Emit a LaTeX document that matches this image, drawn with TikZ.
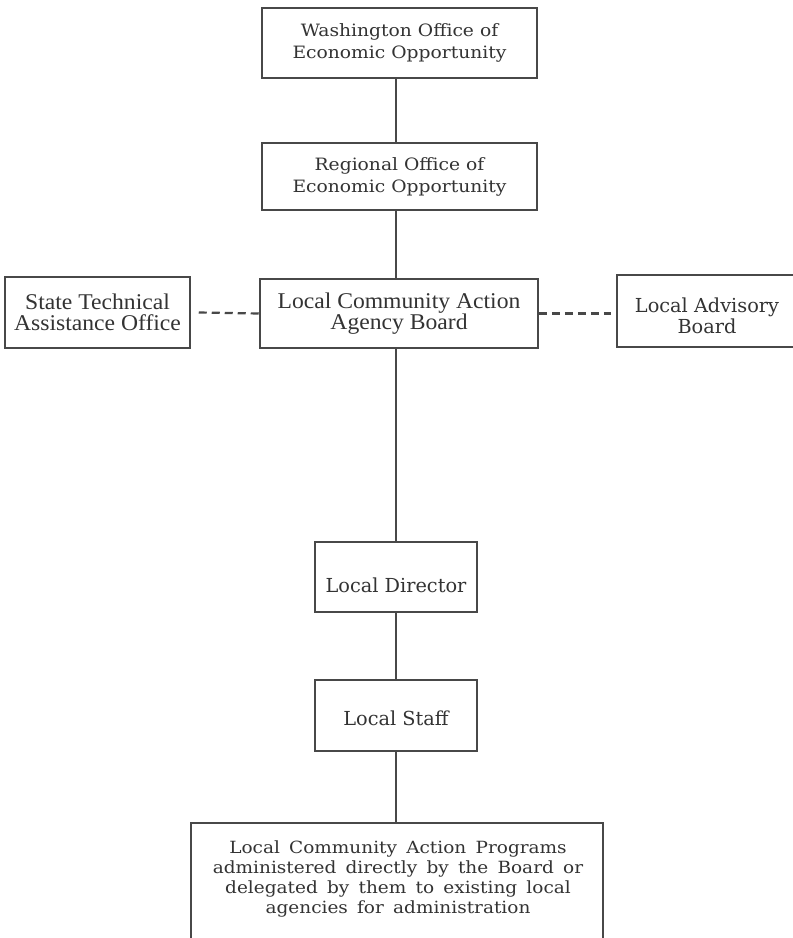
\documentclass[tikz,border=0pt]{standalone}
\usepackage{fontspec}
\setmainfont{DejaVu Serif}
\newfontfamily\condfont[FakeStretch=1.05]{Liberation Serif}
\newfontfamily\widefont[FakeStretch=1.1]{DejaVu Serif}
\definecolor{ink}{HTML}{333333}
\definecolor{edge}{HTML}{484848}
\newcommand{\widespace}{\spaceskip=0.55em plus 0.1em\relax}
\begin{document}
\begin{tikzpicture}[x=1pt,y=-1pt,
  box/.style={draw=edge, line width=1.5pt, text=ink, align=center, inner sep=0pt},
  conn/.style={draw=edge, line width=1.1pt},
  dconn/.style={draw=edge, line width=2.2pt, dash pattern=on 8pt off 5pt},
  txt/.style={font=\widefont\fontsize{17}{22}\selectfont},
  txtc/.style={font=\condfont\fontsize{22.5}{21.5}\selectfont},
  txtd/.style={font=\fontsize{19.3}{21}\selectfont},
  txtb/.style={font=\widefont\fontsize{16.8}{20.3}\selectfont}]
\useasboundingbox[fill=white] (0,0) rectangle (793,938);
\node[box, txt, minimum width=275pt, minimum height=70pt] (wash) at (399.5,43) {Washington Office of\\Economic Opportunity};
\node[box, txt, minimum width=275pt, minimum height=67pt] (reg) at (399.5,176.5) {Regional Office of\\Economic Opportunity};
\node[box, txtc, minimum width=278pt, minimum height=69pt] (lcaa) at (399,313.5) {Local Community Action\\Agency Board};
\node[box, txtc, minimum width=185pt, minimum height=71pt] (sta) at (97.5,312.5) {State Technical\\Assistance Office};
\node[box, txtd, minimum width=180pt, minimum height=72pt] (lab) at (707,311) {\rule{0pt}{24pt}Local Advisory\\Board};
\node[box, txtd, minimum width=162pt, minimum height=70pt, text height=34pt, text depth=4pt] (dir) at (396,577) {Local Director};
\node[box, txtd, minimum width=162pt, minimum height=71pt, text height=23pt, text depth=4pt] (staff) at (396,715.5) {Local Staff};
\node[box, minimum width=412pt, minimum height=122pt, anchor=north] (prog) at (397,822) {};
\node[txtb, text=ink, align=center] (progtext) at (398,879) {\widespace Local Community Action Programs\\\widespace administered directly by the Board or\\\widespace delegated by them to existing local\\\widespace agencies for administration};
\draw[conn] (wash.south -| dir.north) -- (reg.north -| dir.north);
\draw[conn] (reg.south -| dir.north) -- (lcaa.north -| dir.north);
\draw[conn] (lcaa.south -| dir.north) -- (dir.north);
\draw[conn] (dir) -- (staff);
\draw[conn] (staff.south) -- (staff.south |- prog.north);
\draw[dconn] (sta.east) ++(8,0) coordinate (d1) -- (lcaa.west);
\draw[dconn] (lcaa.east) -- ++(72,0) coordinate (d2);
\end{tikzpicture}
\end{document}
